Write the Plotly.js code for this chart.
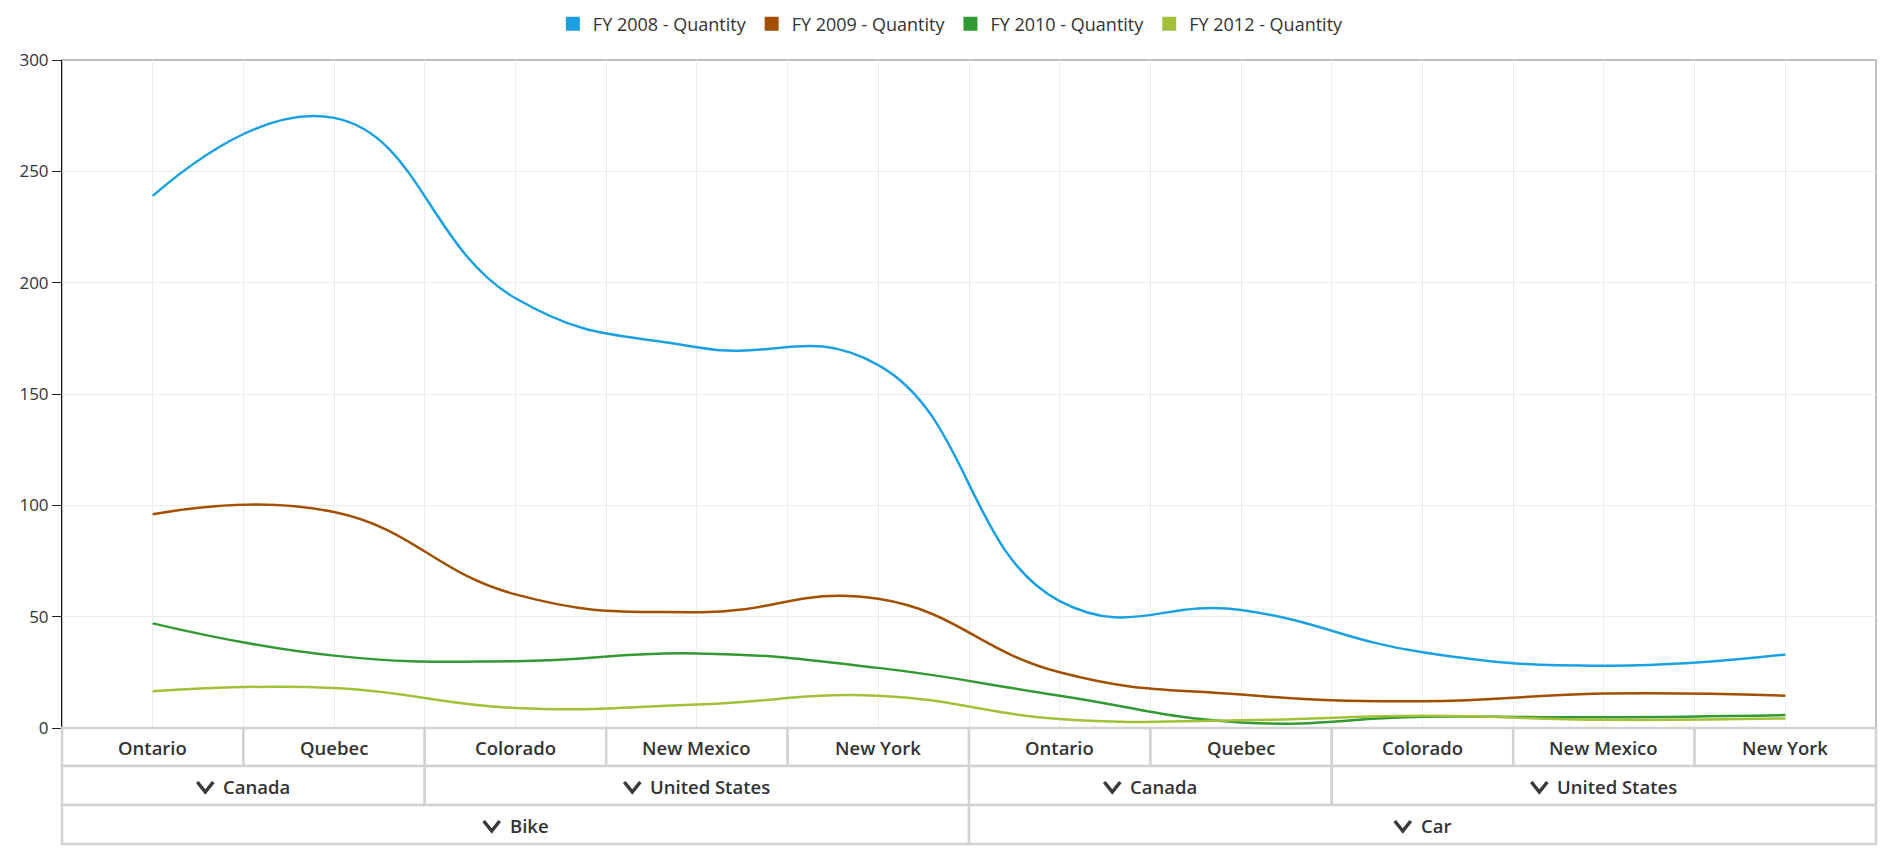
<!DOCTYPE html>
<html>
<head>
<meta charset="utf-8">
<script src="https://cdn.plot.ly/plotly-3.0.1.min.js"></script>
<style>
  html, body { margin: 0; padding: 0; background: #ffffff; }
  #chart { width: 1887px; height: 859px; }
</style>
</head>
<body>
<div id="chart"></div>
<script>
// Category hierarchy (innermost level first)
const states = ['Ontario', 'Quebec', 'Colorado', 'New Mexico', 'New York',
                'Ontario', 'Quebec', 'Colorado', 'New Mexico', 'New York'];
const countries = ['Canada', 'Canada', 'United States', 'United States', 'United States',
                   'Canada', 'Canada', 'United States', 'United States', 'United States'];
const products = ['Bike', 'Bike', 'Bike', 'Bike', 'Bike',
                  'Car', 'Car', 'Car', 'Car', 'Car'];

// Quantities per fiscal year
const seriesNames = ['FY 2008 - Quantity', 'FY 2009 - Quantity', 'FY 2010 - Quantity', 'FY 2012 - Quantity'];
const fy2008 = [239, 274, 193, 171, 163, 57, 53, 34, 28, 33];
const fy2009 = [96, 97, 60, 52, 58, 25, 15, 12, 15.5, 14.5];
const fy2010 = [47, 32.5, 30, 33.5, 27, 14.5, 2.5, 5, 4.8, 5.8];
const fy2012 = [16.5, 18, 9, 10.5, 14.5, 4, 3.5, 5.5, 3.7, 4.3];
const seriesValues = [fy2008, fy2009, fy2010, fy2012];
const seriesColors = ['#1BA1E2', '#A05000', '#339933', '#A2C139'];

const yTicks = [0, 50, 100, 150, 200, 250, 300];

// Page geometry
const W = 1887, H = 859;
const M = { l: 62, r: 11, t: 60, b: 131, autoexpand: false };
const plotW = W - M.l - M.r;
const plotH = H - M.t - M.b;
const rowHeightsPx = [38, 39, 39];        // state row, country row, product row
const FONT = 'Open Sans, Noto Sans, sans-serif';
const TEXT = '#333333';
const LABEL_SIZE = 18.5;

const n = states.length;
const idx = states.map((_, i) => i);

// Paper coordinates from pixel offsets relative to the plot area
const py = px => -px / plotH;             // px below the plot bottom
const pxToPaperX = px => px / plotW;      // px right of the plot left edge
const px0 = i => i / n;                   // category boundary (range [-0.5, n-0.5])

// Text width, used to centre "chevron + label" groups
const ctx = document.createElement('canvas').getContext('2d');
ctx.font = '600 ' + LABEL_SIZE + 'px "Open Sans"';
const textW = s => ctx.measureText(s).width;

// Consecutive runs of identical keys -> spanning header cells
function runs(keys, labels) {
  const out = [];
  let s = 0;
  for (let i = 1; i <= keys.length; i++) {
    if (i === keys.length || keys[i] !== keys[s]) {
      out.push({ label: labels[s], start: s, end: i - 1 });
      s = i;
    }
  }
  return out;
}

const levels = [
  { cells: runs(states.map((s, i) => products[i] + '|' + countries[i] + '|' + s + '|' + i), states), chevron: false },
  { cells: runs(countries.map((c, i) => products[i] + '|' + c), countries), chevron: true },
  { cells: runs(products, products), chevron: true }
];

const shapes = [];
const annotations = [];

// Plot frame
shapes.push({
  type: 'rect', xref: 'paper', yref: 'paper', x0: 0, x1: 1, y0: 0, y1: 1,
  line: { color: '#bdbdbd', width: 2 }, fillcolor: 'rgba(0,0,0,0)', layer: 'below'
});

const CHEV_W = 16, CHEV_H = 10, CHEV_GAP = 9;
let topPx = 0;
levels.forEach((lvl, li) => {
  const botPx = topPx + rowHeightsPx[li];
  const midPx = (topPx + botPx) / 2;
  lvl.cells.forEach(c => {
    const x0 = px0(c.start), x1 = px0(c.end + 1);
    shapes.push({
      type: 'rect', xref: 'paper', yref: 'paper',
      x0: x0, x1: x1, y0: py(botPx), y1: py(topPx),
      line: { color: '#d2d2d2', width: 2.5 }, fillcolor: '#ffffff', layer: 'above'
    });
    const cx = (x0 + x1) / 2;
    const font = { family: FONT, size: LABEL_SIZE, color: TEXT, weight: 600 };
    if (!lvl.chevron) {
      annotations.push({
        xref: 'paper', yref: 'paper', x: cx, y: py(midPx + 1),
        xanchor: 'center', yanchor: 'middle', showarrow: false,
        text: c.label, font: font
      });
    } else {
      const groupW = CHEV_W + CHEV_GAP + textW(c.label);
      const left = cx - pxToPaperX(groupW / 2);
      const cTop = py(midPx - CHEV_H / 2 + 1.5), cBot = py(midPx + CHEV_H / 2 + 1.5);
      const cMid = left + pxToPaperX(CHEV_W / 2), cRight = left + pxToPaperX(CHEV_W);
      shapes.push({
        type: 'path', xref: 'paper', yref: 'paper', layer: 'above',
        path: 'M' + left + ',' + cTop + ' L' + cMid + ',' + cBot + ' L' + cRight + ',' + cTop,
        line: { color: '#3a3a3a', width: 3.5 }
      });
      annotations.push({
        xref: 'paper', yref: 'paper',
        x: left + pxToPaperX(CHEV_W + CHEV_GAP), y: py(midPx + 1),
        xanchor: 'left', yanchor: 'middle', showarrow: false, xshift: -1,
        text: c.label, font: font
      });
    }
  });
  topPx = botPx;
});

const traces = [];
seriesValues.forEach((vals, k) => {
  traces.push({
    type: 'scatter', mode: 'lines', x: idx, y: vals,
    name: seriesNames[k], legendgroup: seriesNames[k], showlegend: false,
    line: { shape: 'spline', smoothing: 1.3, width: 2.5, color: seriesColors[k] },
    hovertemplate: '%{y}<extra>' + seriesNames[k] + '</extra>'
  });
});
// Legend entries shown as square swatches
seriesValues.forEach((vals, k) => {
  traces.push({
    type: 'scatter', mode: 'markers', x: [null], y: [null],
    name: seriesNames[k], legendgroup: seriesNames[k], showlegend: true,
    marker: { symbol: 'square', size: 14, color: seriesColors[k] },
    hoverinfo: 'skip'
  });
});

const layout = {
  width: W, height: H,
  margin: M,
  paper_bgcolor: '#ffffff',
  plot_bgcolor: 'rgba(0,0,0,0)',
  font: { family: FONT, size: 17, color: TEXT },
  showlegend: true,
  legend: {
    orientation: 'h', x: 0.49, xanchor: 'center',
    y: 1 + (M.t - 24) / plotH, yanchor: 'middle',
    font: { family: FONT, size: 18, color: TEXT },
    itemwidth: 30, tracegroupgap: 0, traceorder: 'normal'
  },
  xaxis: {
    type: 'linear', range: [-0.5, n - 0.5],
    tickmode: 'array', tickvals: idx.flatMap(i => [i - 0.5, i]).concat([n - 0.5]),
    showticklabels: false, ticks: '',
    showgrid: true, gridcolor: '#ececec', gridwidth: 1,
    zeroline: false, showline: false, fixedrange: true
  },
  yaxis: {
    range: [0, 300], tickmode: 'array', tickvals: yTicks,
    ticks: 'outside', ticklen: 9, tickwidth: 1, tickcolor: '#222222',
    showline: true, linecolor: '#111111', linewidth: 1,
    showgrid: true, gridcolor: '#ececec', gridwidth: 1,
    zeroline: false, tickfont: { family: FONT, size: 17, color: TEXT },
    fixedrange: true
  },
  shapes: shapes,
  annotations: annotations
};

Plotly.newPlot('chart', traces, layout, { displayModeBar: false, responsive: false });
</script>
</body>
</html>
